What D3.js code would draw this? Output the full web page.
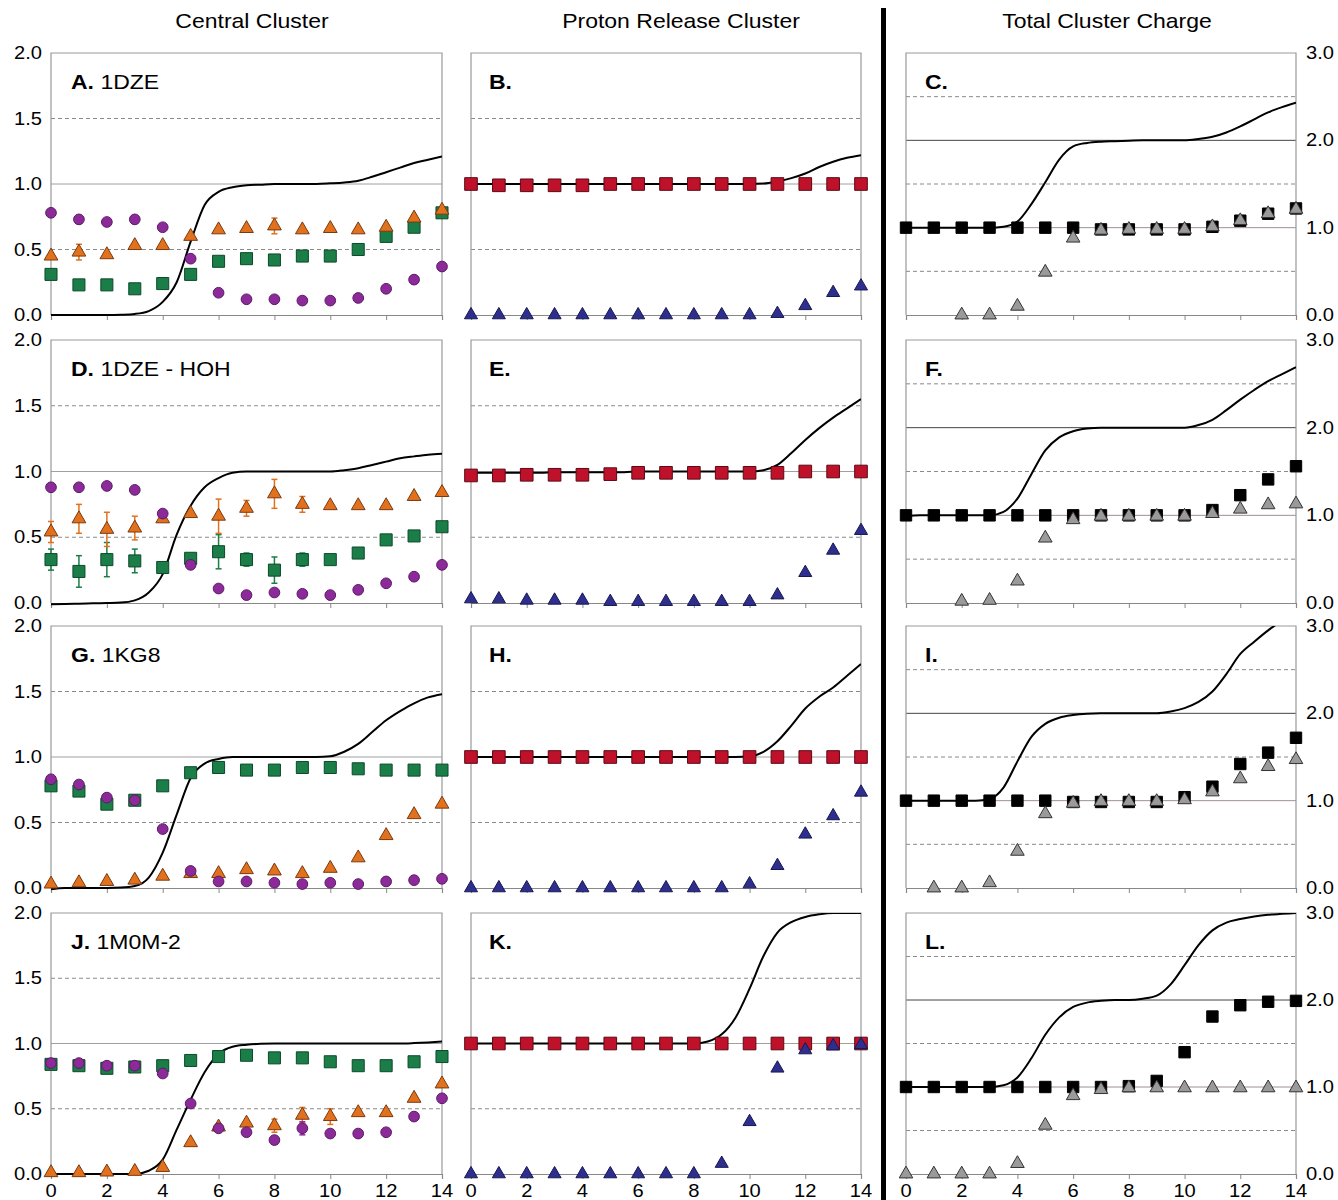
<!DOCTYPE html>
<html><head><meta charset="utf-8">
<script src="https://cdn.jsdelivr.net/npm/d3@7"></script>
<style>body{margin:0;background:#fff;} svg{display:block;font-family:"Liberation Sans",Arial,sans-serif;}</style>
</head><body><svg id="chart" width="1338" height="1200"></svg>
<script>
// ---------- data ----------
const xs = [0,1,2,3,4,5,6,7,8,9,10,11,12,13,14];
const curveX = [0,0.5,1,1.5,2,2.5,3,3.5,4,4.5,5,5.5,6,6.5,7,7.5,8,8.5,9,9.5,10,10.5,11,11.5,12,12.5,13,13.5,14];
const columnTitles = ["Central Cluster","Proton Release Cluster","Total Cluster Charge"];
const leftTicks = [0,0.5,1,1.5,2];
const leftTickLabels = ["0.0","0.5","1.0","1.5","2.0"];
const rightTicks = [0,1,2,3];
const rightTickLabels = ["0.0","1.0","2.0","3.0"];
const xTicks = [0,2,4,6,8,10,12,14];

// A. 1DZE
const aGreen  = [0.31,0.23,0.23,0.20,0.24,0.31,0.41,0.43,0.42,0.45,0.45,0.50,0.60,0.67,0.78];
const aOrange = [0.45,0.48,0.46,0.53,0.53,0.60,0.65,0.66,0.68,0.65,0.66,0.65,0.67,0.74,0.80];
const aOrangeErr = [0,0.06,0,0,0,0,0,0,0.06,0,0,0,0,0,0];
const aPurple = [0.78,0.73,0.71,0.73,0.67,0.43,0.17,0.12,0.12,0.11,0.11,0.13,0.20,0.27,0.37];
const aCurve  = [0,0,0,0,0,0.002,0.008,0.03,0.1,0.25,0.56,0.84,0.94,0.975,0.99,0.995,1,1,1,1,1.005,1.012,1.025,1.055,1.09,1.125,1.16,1.185,1.21];
// B.
const bRed  = [1,0.99,0.99,0.99,0.99,1,1,1,1,1,1,1,1,1,1];
const bBlue = [0,0,0,0,0,0,0,0,0,0,0,0.01,0.07,0.17,0.22];
const bCurve = [1,1,1,1,1,1,1,1,1,1,1,1,1,1,1,1,1,1,1,1,1,1.003,1.02,1.045,1.08,1.13,1.17,1.2,1.22];
// C.
const cSquare = [1,1,1,1,1,1,1,0.98,0.98,0.98,0.98,1.01,1.08,1.16,1.22];
const cTri    = [null,null,0,0,0.1,0.49,0.88,0.97,0.98,0.98,0.98,1.01,1.08,1.16,1.21];
const cCurve  = [1,1,1,1,1,1,1,1.01,1.07,1.27,1.52,1.78,1.93,1.97,1.985,1.99,1.995,2,2,2,2,2.015,2.04,2.09,2.16,2.24,2.32,2.38,2.43];
// D. 1DZE - HOH
const dGreen  = [0.33,0.24,0.33,0.32,0.27,0.34,0.39,0.33,0.25,0.33,0.33,0.38,0.48,0.51,0.58];
const dGreenErr = [0.08,0.12,0.13,0.09,0,0,0.13,0.05,0.1,0.05,0,0,0,0,0];
const dOrange = [0.54,0.64,0.56,0.57,0.64,0.68,0.66,0.72,0.83,0.75,0.74,0.74,0.74,0.81,0.84];
const dOrangeErr = [0.08,0.11,0.13,0.09,0,0,0.13,0.06,0.11,0.06,0,0,0,0,0];
const dPurple = [0.88,0.88,0.89,0.86,0.68,0.29,0.11,0.06,0.08,0.07,0.06,0.10,0.15,0.20,0.29];
const dCurve  = [-0.01,-0.008,-0.005,-0.002,0,0.003,0.02,0.08,0.22,0.52,0.74,0.88,0.95,0.99,1,1,1,1,1,1,1,1.01,1.025,1.05,1.075,1.1,1.115,1.128,1.135];
// E.
const eRed  = [0.97,0.97,0.975,0.975,0.975,0.98,0.99,0.99,0.99,0.99,0.99,0.99,1,1,1];
const eBlue = [0.03,0.03,0.02,0.02,0.02,0.01,0.01,0.01,0.01,0.01,0.01,0.06,0.23,0.40,0.55];
const eCurve = [0.99,0.99,0.99,0.99,0.99,0.99,0.995,0.995,0.995,0.995,0.995,0.995,1,1,1,1,1,1,1,1,1,1.01,1.05,1.14,1.24,1.33,1.41,1.48,1.55];
// F.
const fSquare = [1,1,1,1,1,1,1,1,1,1,1,1.06,1.23,1.41,1.56];
const fTri    = [null,null,0.02,0.03,0.25,0.74,0.95,0.99,0.99,0.99,0.99,1.02,1.07,1.12,1.13];
const fCurve  = [0.99,1,1,1,1,1,1,1.04,1.19,1.47,1.74,1.89,1.96,1.99,2,2,2,2,2,2,2,2.03,2.09,2.2,2.32,2.43,2.53,2.61,2.69];
// G. 1KG8
const gGreen  = [0.78,0.74,0.64,0.67,0.78,0.88,0.92,0.90,0.90,0.92,0.92,0.91,0.90,0.90,0.90];
const gOrange = [0.03,0.04,0.05,0.06,0.09,0.11,0.11,0.14,0.13,0.11,0.15,0.23,0.40,0.56,0.64];
const gPurple = [0.83,0.79,0.69,0.67,0.45,0.13,0.05,0.05,0.04,0.03,0.04,0.03,0.05,0.06,0.07];
const gCurve  = [-0.01,0,0,0,0,0.003,0.015,0.08,0.27,0.56,0.84,0.95,0.985,1,1,1,1,1,1,1,1.005,1.04,1.1,1.19,1.28,1.35,1.41,1.455,1.48];
// H.
const hRed  = [1,1,1,1,1,1,1,1,1,1,1,1,1,1,1];
const hBlue = [0,0,0,0,0,0,0,0,0,0,0.03,0.17,0.41,0.55,0.73];
const hCurve = [1,1,1,1,1,1,1,1,1,1,1,1,1,1,1,1,1,1,1,1,1.005,1.04,1.12,1.24,1.37,1.46,1.53,1.62,1.71];
// I.
const iSquare = [1,1,1,1,1,1,0.985,0.985,0.985,0.985,1.04,1.16,1.42,1.55,1.72];
const iTri    = [null,0,0,0.06,0.42,0.85,0.97,0.99,0.99,0.99,1.01,1.10,1.25,1.39,1.47];
const iCurve  = [1,1,1,1,1,1,1.02,1.15,1.45,1.73,1.88,1.95,1.98,1.995,2,2,2,2,2,2.02,2.06,2.13,2.25,2.45,2.68,2.82,2.95,3.06,3.15];
// J. 1M0M-2
const jGreen  = [0.84,0.83,0.81,0.82,0.83,0.87,0.90,0.91,0.89,0.89,0.86,0.83,0.83,0.86,0.90];
const jOrange = [0.01,0.01,0.015,0.02,0.05,0.24,0.36,0.39,0.37,0.45,0.44,0.47,0.47,0.58,0.69];
const jOrangeErr = [0,0,0,0,0,0,0,0,0.05,0.06,0.06,0,0,0,0];
const jPurple = [0.85,0.85,0.83,0.83,0.77,0.54,0.35,0.32,0.26,0.35,0.31,0.31,0.32,0.44,0.58];
const jPurpleErr = [0,0,0,0,0,0,0,0,0.03,0.05,0,0,0,0,0];
const jCurve  = [0,0,0,0,0,0,0,0.025,0.11,0.34,0.57,0.78,0.92,0.975,0.99,0.998,1,1,1,1,1,1,1,1,1,1,1.003,1.008,1.015];
// K.
const kRed  = [1,1,1,1,1,1,1,1,1,1,1,1,1,1,1];
const kBlue = [0,0,0,0,0,0,0,0,0,0.08,0.40,0.81,0.95,0.98,0.99];
const kCurve = [1,1,1,1,1,1,1,1,1,1,1,1,1,1,1,1,1,1.015,1.07,1.2,1.42,1.67,1.85,1.93,1.97,1.99,2,2,2];
// L.
const lSquare = [1,1,1,1,1,1,1,1,1.01,1.07,1.40,1.81,1.94,1.98,1.99];
const lTri    = [0,0,0,0,0.12,0.56,0.9,0.97,0.99,0.99,0.99,0.99,0.99,0.99,0.99];
const lCurve  = [1,1,1,1,1,1,1,1.02,1.11,1.33,1.6,1.8,1.92,1.97,1.99,2,2,2.015,2.05,2.18,2.4,2.63,2.8,2.89,2.93,2.96,2.98,2.99,3.0];

// ---------- styles ----------
const ST = {
  green:  {shape:d3.symbolSquare,   size:145, fill:"#1b7d47", stroke:"#0c4a28"},
  orange: {shape:d3.symbolTriangle, size:82,  fill:"#e2711d", stroke:"#7a3a10"},
  purple: {shape:d3.symbolCircle,   size:90,  fill:"#8d2a99", stroke:"#5a1a66"},
  red:    {shape:d3.symbolSquare,   size:160, fill:"#c0112b", stroke:"#5a0a14"},
  blue:   {shape:d3.symbolTriangle, size:74,  fill:"#2e2e8e", stroke:"#181850"},
  black:  {shape:d3.symbolSquare,   size:130, fill:"#000000", stroke:"#000000"},
  gray:   {shape:d3.symbolTriangle, size:80,  fill:"#9a9a9a", stroke:"#333333"}
};

const cols = [{x0:51,x1:442},{x0:471,x1:861},{x0:906,x1:1296}];
const rows = [{t:53,b:315},{t:340,b:603},{t:626,b:888},{t:913,b:1174}];

const panels = [
  {c:0,r:0,b:"A.",n:"1DZE",series:[["green",aGreen],["orange",aOrange,aOrangeErr],["purple",aPurple]],curve:aCurve},
  {c:1,r:0,b:"B.",n:"",series:[["red",bRed],["blue",bBlue]],curve:bCurve},
  {c:2,r:0,b:"C.",n:"",series:[["black",cSquare],["gray",cTri]],curve:cCurve},
  {c:0,r:1,b:"D.",n:"1DZE - HOH",series:[["green",dGreen,dGreenErr],["orange",dOrange,dOrangeErr],["purple",dPurple]],curve:dCurve},
  {c:1,r:1,b:"E.",n:"",series:[["red",eRed],["blue",eBlue]],curve:eCurve},
  {c:2,r:1,b:"F.",n:"",series:[["black",fSquare],["gray",fTri]],curve:fCurve},
  {c:0,r:2,b:"G.",n:"1KG8",series:[["green",gGreen],["orange",gOrange],["purple",gPurple]],curve:gCurve},
  {c:1,r:2,b:"H.",n:"",series:[["red",hRed],["blue",hBlue]],curve:hCurve},
  {c:2,r:2,b:"I.",n:"",series:[["black",iSquare],["gray",iTri]],curve:iCurve},
  {c:0,r:3,b:"J.",n:"1M0M-2",series:[["green",jGreen],["orange",jOrange,jOrangeErr],["purple",jPurple,jPurpleErr]],curve:jCurve},
  {c:1,r:3,b:"K.",n:"",series:[["red",kRed],["blue",kBlue]],curve:kCurve},
  {c:2,r:3,b:"L.",n:"",series:[["black",lSquare],["gray",lTri]],curve:lCurve}
];

const SX = 1.15;
const svg = d3.select("#chart");
const defs = svg.append("defs");

function text(g, x, y, str, size, anchor, weight){
  return g.append("text").attr("transform",`translate(${x},${y}) scale(${SX},1)`)
    .attr("text-anchor",anchor||"start").attr("font-size",size)
    .attr("font-weight",weight||"normal").attr("fill","#000").text(str);
}

// column titles
const titleX = [252,681,1107];
columnTitles.forEach((t,i)=>text(svg,titleX[i],28,t,20,"middle"));

// divider
svg.append("rect").attr("x",881).attr("y",8).attr("width",5).attr("height",1192).attr("fill","#000");

panels.forEach((p,pi)=>{
  const C = cols[p.c], R = rows[p.r];
  const yMax = p.c===2 ? 3 : 2;
  const x = d3.scaleLinear().domain([0,14]).range([C.x0,C.x1]);
  const y = d3.scaleLinear().domain([0,yMax]).range([R.b,R.t]);
  const g = svg.append("g");

  // gridlines
  const grids = p.c===2
    ? [[0.5,"d"],[1,"s1"],[1.5,"d"],[2,"s2"],[2.5,"d"]]
    : [[0.5,"d"],[1,"s1"],[1.5,"d"]];
  grids.forEach(([v,t])=>{
    g.append("line").attr("x1",C.x0).attr("x2",C.x1).attr("y1",y(v)).attr("y2",y(v))
      .attr("stroke", t==="d" ? "#8a8a8a" : (t==="s2" ? "#444" : (p.c===2 ? "#a09090" : "#a0a0a0")))
      .attr("stroke-width",1)
      .attr("stroke-dasharray", t==="d" ? "4,3" : null);
  });
  // border (top/left/right)
  g.append("path").attr("d",`M${C.x0},${R.b}V${R.t}H${C.x1}V${R.b}`)
    .attr("fill","none").attr("stroke","#999").attr("stroke-width",1.2);
  // bottom axis
  const ax = g.append("g").attr("transform",`translate(0,${R.b})`)
    .call(d3.axisBottom(x).tickValues(xTicks).tickSize(5).tickFormat(""));
  ax.select(".domain").attr("stroke","#888").attr("stroke-width",1.2);
  ax.selectAll(".tick line").attr("stroke","#888");

  // y labels
  if(p.c===0){
    leftTicks.forEach((v,i)=>text(g,42,y(v)+6,leftTickLabels[i],17.5,"end"));
  } else if(p.c===2){
    rightTicks.forEach((v,i)=>text(g,1306,y(v)+6,rightTickLabels[i],17.5,"start"));
  }
  // x labels on bottom row
  if(p.r===3){
    xTicks.forEach(v=>text(g,x(v),1197,String(v),17.5,"middle"));
  }

  // curve (clipped)
  const cid = "clip"+pi;
  defs.append("clipPath").attr("id",cid).append("rect")
    .attr("x",C.x0).attr("y",R.t).attr("width",C.x1-C.x0).attr("height",R.b-R.t+3);
  const line = d3.line().x((d,i)=>x(curveX[i])).y(d=>y(d)).curve(d3.curveMonotoneX);
  g.append("path").attr("d",line(p.curve)).attr("fill","none").attr("stroke","#000")
    .attr("stroke-width",2).attr("clip-path",`url(#${cid})`);

  // series
  p.series.forEach(([key,vals,err])=>{
    const s = ST[key];
    if(err){
      xs.forEach((xv,i)=>{
        const e = err[i]; if(!e) return;
        const v = vals[i];
        g.append("line").attr("x1",x(xv)).attr("x2",x(xv)).attr("y1",y(v-e)).attr("y2",y(v+e))
          .attr("stroke",s.fill).attr("stroke-width",1.5);
        [v-e,v+e].forEach(w=>g.append("line").attr("x1",x(xv)-3).attr("x2",x(xv)+3)
          .attr("y1",y(w)).attr("y2",y(w)).attr("stroke",s.fill).attr("stroke-width",1.5));
      });
    }
    const sym = d3.symbol().type(s.shape).size(s.size);
    xs.forEach((xv,i)=>{
      const v = vals[i]; if(v===null) return;
      g.append("path").attr("d",sym()).attr("transform",`translate(${x(xv)},${y(v)})`)
        .attr("fill",s.fill).attr("stroke",s.stroke).attr("stroke-width",1);
    });
  });

  // panel label
  const lx = C.x0 + (p.c===0 ? 20 : (p.c===1 ? 18 : 19));
  const t = g.append("text").attr("transform",`translate(${lx},${R.t+36}) scale(${SX},1)`)
    .attr("font-size",20).attr("fill","#000");
  t.append("tspan").attr("font-weight","bold").text(p.b);
  if(p.n) t.append("tspan").text(" "+p.n);
});
</script></body></html>
